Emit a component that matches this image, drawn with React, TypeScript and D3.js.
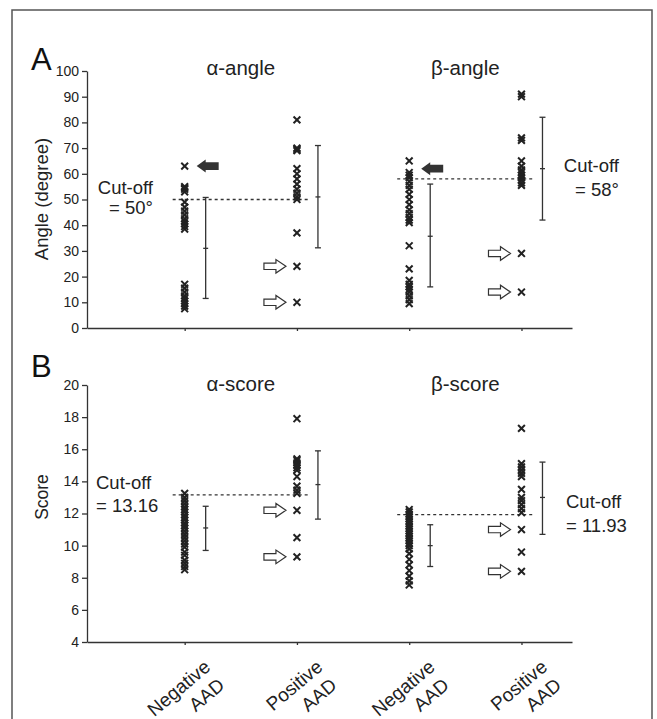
import { useEffect, useRef } from "react"
import * as d3 from "d3"

// category positions on the shared x axis (1..4)
const groups = ["Negative AAD", "Positive AAD", "Negative AAD", "Positive AAD"]
const groupPos = [1, 2, 3, 4]

// panel A: angles (degree)
const alphaAngleNeg = [63, 55, 54.5, 54, 53, 49, 47, 45.5, 44, 42.5, 41.5, 40.5, 39.5, 38.5, 17, 15.5, 14, 12.5, 11.5, 10.5, 9.5, 8.5, 7.5]
const alphaAnglePos = [81, 70, 69.5, 69, 62, 60, 58, 56, 54, 52.5, 51, 50, 37, 24, 10]
const betaAngleNeg = [65, 60.5, 59.5, 58.5, 57, 55.5, 54, 52, 50, 48, 46, 44.5, 43, 42, 41, 32, 23, 18.5, 17, 16, 15, 14, 12.5, 11, 9.5]
const betaAnglePos = [91, 90, 74, 73, 65, 63, 61.5, 60.5, 59.5, 58.5, 57.5, 56.5, 55.5, 29, 14]
const angleBars = [
  { mean: 31, lo: 11.5, hi: 50.8 },
  { mean: 51, lo: 31.2, hi: 71 },
  { mean: 35.7, lo: 16, hi: 56 },
  { mean: 62, lo: 42, hi: 82 },
]
const angleTicks = [0, 10, 20, 30, 40, 50, 60, 70, 80, 90, 100]
const angleCutoffs = [50, 58]
const angleFilledArrows = [
  { g: 0, v: 63 },
  { g: 2, v: 62 },
]
const angleHollowArrows = [
  { g: 1, v: 24 },
  { g: 1, v: 10 },
  { g: 3, v: 29 },
  { g: 3, v: 14 },
]

// panel B: scores
const alphaScoreNeg = [13.25, 13.0, 12.8, 12.6, 12.4, 12.25, 12.1, 11.9, 11.75, 11.6, 11.4, 11.25, 11.1, 10.9, 10.7, 10.5, 10.3, 10.1, 9.9, 9.6, 9.4, 9.1, 8.9, 8.7, 8.5]
const alphaScorePos = [17.9, 15.4, 15.3, 15.15, 15.0, 14.85, 14.7, 14.3, 13.7, 13.45, 13.25, 12.2, 10.5, 9.3]
const betaScoreNeg = [12.25, 12.1, 11.95, 11.8, 11.65, 11.5, 11.35, 11.2, 11.05, 10.9, 10.75, 10.6, 10.45, 10.3, 10.15, 10.0, 9.8, 9.5, 9.15, 8.8, 8.45, 8.1, 7.8, 7.55]
const betaScorePos = [17.3, 15.1, 14.9, 14.7, 14.5, 14.3, 13.5, 13.0, 12.8, 12.55, 12.3, 12.05, 11.0, 9.6, 8.4]
const scoreBars = [
  { mean: 11.1, lo: 9.7, hi: 12.45 },
  { mean: 13.8, lo: 11.65, hi: 15.9 },
  { mean: 10.0, lo: 8.7, hi: 11.3 },
  { mean: 13.0, lo: 10.7, hi: 15.2 },
]
const scoreTicks = [4, 6, 8, 10, 12, 14, 16, 18, 20]
const scoreCutoffs = [13.16, 11.93]
const scoreHollowArrows = [
  { g: 1, v: 12.2 },
  { g: 1, v: 9.3 },
  { g: 3, v: 11.0 },
  { g: 3, v: 8.4 },
]

const FONT = "'Liberation Sans', Arial, sans-serif"
const INK = "#222"

const App = () => {
  const ref = useRef<SVGSVGElement>(null)

  useEffect(() => {
    const svg = d3.select(ref.current)
    svg.selectAll("*").remove()

    svg
      .append("rect")
      .attr("x", 12)
      .attr("y", 10)
      .attr("width", 640)
      .attr("height", 760)
      .attr("fill", "none")
      .attr("stroke", "#555")
      .attr("stroke-width", 1.5)

    const x = d3.scaleLinear().domain([0.13, 4.45]).range([87, 572])

    const panels = [
      {
        letter: "A",
        yLabel: "Angle (degree)",
        yLabelY: 199,
        yLabelSize: 18.5,
        titles: ["α-angle", "β-angle"],
        y: d3.scaleLinear().domain([0, 100]).range([328, 71]),
        ticks: angleTicks,
        cols: [alphaAngleNeg, alphaAnglePos, betaAngleNeg, betaAnglePos],
        bars: angleBars,
        cutoffs: angleCutoffs,
        filled: angleFilledArrows,
        hollow: angleHollowArrows,
        cutText: [
          { lines: ["Cut-off", "= 50°"], x: 153, y: [194, 214], anchor: "end" },
          { lines: ["Cut-off", "= 58°"], x: 619, y: [172, 196], anchor: "end" },
        ],
        titleY: 75,
        letterY: 70,
      },
      {
        letter: "B",
        yLabel: "Score",
        yLabelY: 497,
        yLabelSize: 17.5,
        titles: ["α-score", "β-score"],
        y: d3.scaleLinear().domain([4, 20]).range([642, 385]),
        ticks: scoreTicks,
        cols: [alphaScoreNeg, alphaScorePos, betaScoreNeg, betaScorePos],
        bars: scoreBars,
        cutoffs: scoreCutoffs,
        filled: [] as { g: number; v: number }[],
        hollow: scoreHollowArrows,
        cutText: [
          { lines: ["Cut-off", "= 13.16"], x: 96, y: [489, 512], anchor: "start" },
          { lines: ["Cut-off", "= 11.93"], x: 566, y: [508, 532], anchor: "start" },
        ],
        titleY: 391,
        letterY: 377,
      },
    ]

    panels.forEach((p) => {
      const g = svg.append("g")
      const [y0] = p.y.range()

      // y axis
      g.append("g")
        .attr("transform", `translate(${x.range()[0]},0)`)
        .call(
          d3
            .axisLeft(p.y)
            .tickValues(p.ticks)
            .tickSize(5)
            .tickSizeOuter(0)
            .tickPadding(3) as any
        )
        .call((a) => a.selectAll("text").attr("font-size", 14).attr("font-family", FONT).attr("fill", INK))
        .call((a) => a.selectAll("line,path").attr("stroke", "#333").attr("stroke-width", 1.3))

      // x axis
      g.append("g")
        .attr("transform", `translate(0,${y0})`)
        .call(
          d3
            .axisBottom(x)
            .tickValues(groupPos)
            .tickFormat(() => "")
            .tickSize(3)
            .tickSizeOuter(0) as any
        )
        .call((a) => a.selectAll("line,path").attr("stroke", "#333").attr("stroke-width", 1.3))

      g.append("text")
        .attr("x", 31)
        .attr("y", p.letterY)
        .attr("font-size", 31)
        .attr("font-family", FONT)
        .attr("fill", "#111")
        .text(p.letter)

      g.append("text")
        .attr("transform", `translate(48,${p.yLabelY}) rotate(-90)`)
        .attr("text-anchor", "middle")
        .attr("font-size", p.yLabelSize)
        .attr("font-family", FONT)
        .attr("fill", INK)
        .text(p.yLabel)

      p.titles.forEach((t, i) => {
        g.append("text")
          .attr("x", (x(groupPos[i * 2]) + x(groupPos[i * 2 + 1])) / 2)
          .attr("y", p.titleY)
          .attr("text-anchor", "middle")
          .attr("font-size", 20.5)
          .attr("font-family", FONT)
          .attr("fill", INK)
          .text(t)
      })

      // cut-off dashed lines
      p.cutoffs.forEach((c, i) => {
        g.append("line")
          .attr("x1", x(groupPos[i * 2]) - 12)
          .attr("x2", x(groupPos[i * 2 + 1]) + 12)
          .attr("y1", p.y(c))
          .attr("y2", p.y(c))
          .attr("stroke", "#333")
          .attr("stroke-width", 1.3)
          .attr("stroke-dasharray", "3,3")
      })

      p.cutText.forEach((c) => {
        c.lines.forEach((l, j) => {
          g.append("text")
            .attr("x", c.x)
            .attr("y", c.y[j])
            .attr("text-anchor", c.anchor)
            .attr("font-size", 18.5)
            .attr("font-family", FONT)
            .attr("fill", INK)
            .text(l)
        })
      })

      // points
      p.cols.forEach((vals, i) => {
        g.append("g")
          .selectAll("path")
          .data(vals)
          .join("path")
          .attr("transform", (d) => `translate(${x(groupPos[i])},${p.y(d)})`)
          .attr("d", "M-3.4,-3.4L3.4,3.4M-3.4,3.4L3.4,-3.4")
          .attr("stroke", INK)
          .attr("stroke-width", 2)
          .attr("fill", "none")
      })

      // mean +/- sd bars
      p.bars.forEach((b, i) => {
        const bx = x(groupPos[i]) + 21
        const bg = g.append("g").attr("stroke", "#333").attr("stroke-width", 1.3)
        bg.append("line").attr("x1", bx).attr("x2", bx).attr("y1", p.y(b.lo)).attr("y2", p.y(b.hi))
        bg.append("line").attr("x1", bx - 3).attr("x2", bx + 3).attr("y1", p.y(b.lo)).attr("y2", p.y(b.lo))
        bg.append("line").attr("x1", bx - 3).attr("x2", bx + 3).attr("y1", p.y(b.hi)).attr("y2", p.y(b.hi))
        bg.append("line").attr("x1", bx - 2.5).attr("x2", bx + 2.5).attr("y1", p.y(b.mean)).attr("y2", p.y(b.mean))
      })

      // arrows
      p.filled.forEach((a) => {
        g.append("path")
          .attr("transform", `translate(${x(groupPos[a.g]) + 12},${p.y(a.v)})`)
          .attr("d", "M0,0L9,-6.5L9,-3.8L22,-3.8L22,3.8L9,3.8L9,6.5Z")
          .attr("fill", "#333")
      })
      p.hollow.forEach((a) => {
        g.append("path")
          .attr("transform", `translate(${x(groupPos[a.g]) - 33},${p.y(a.v)})`)
          .attr("d", "M0,-3.2L12,-3.2L12,-6.8L22,0L12,6.8L12,3.2L0,3.2Z")
          .attr("fill", "#fff")
          .attr("stroke", "#333")
          .attr("stroke-width", 1.2)
      })
    })

    // rotated category labels under panel B
    groups.forEach((name, i) => {
      const [l1, l2] = name.split(" ")
      const lg = svg
        .append("g")
        .attr("transform", `translate(${x(groupPos[i]) + 27},669) rotate(-40)`)
        .attr("font-size", 19)
        .attr("font-family", FONT)
        .attr("fill", INK)
        .attr("text-anchor", "end")
      lg.append("text").attr("x", 0).attr("y", 0).text(l1)
      lg.append("text").attr("x", -1).attr("y", 23).text(l2)
    })
  }, [])

  return (
    <svg
      ref={ref}
      width={657}
      height={719}
      style={{ position: "absolute", left: 0, top: 0, background: "#fff" }}
    />
  )
}

export default App
